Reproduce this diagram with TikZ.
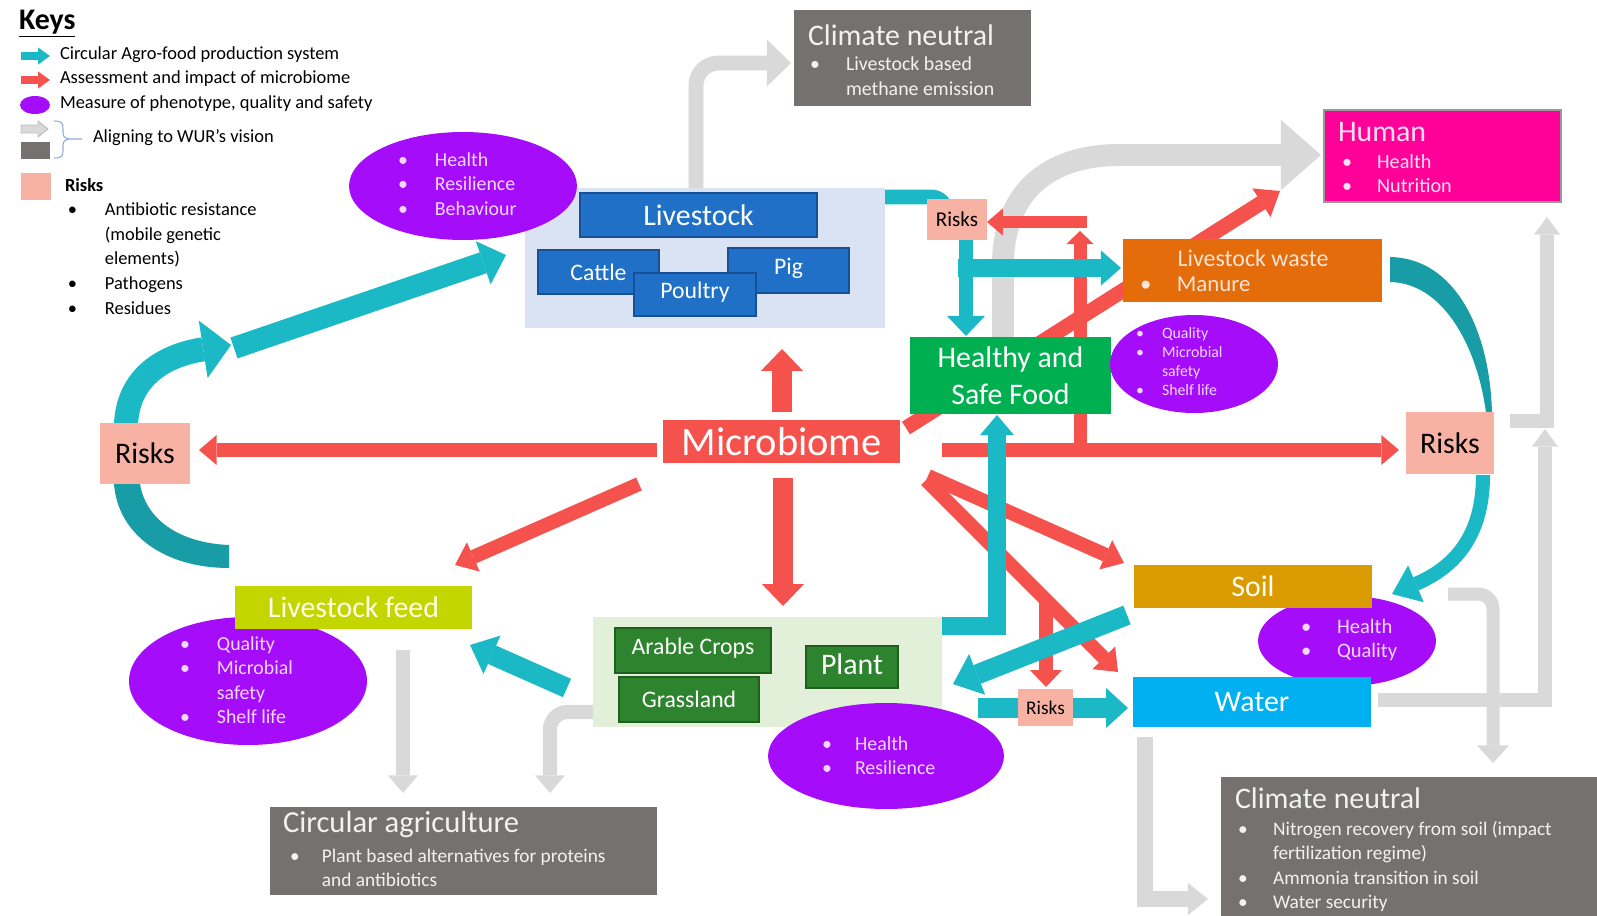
\documentclass[tikz,border=0pt]{standalone}
\usepackage{fontspec}
\setmainfont{Carlito}
\usetikzlibrary{arrows.meta,fit,shapes.geometric}
\definecolor{tealc}{RGB}{27,185,198}
\definecolor{teald}{RGB}{24,157,167}
\definecolor{redc}{RGB}{245,82,78}
\definecolor{purp}{RGB}{164,12,250}
\definecolor{garr}{RGB}{217,217,217}
\definecolor{garrb}{RGB}{190,190,190}
\definecolor{dgray}{RGB}{118,113,113}
\definecolor{pinkr}{RGB}{248,178,164}
\definecolor{lblue}{RGB}{218,227,243}
\definecolor{bluec}{RGB}{31,112,198}
\definecolor{blueb}{RGB}{24,80,150}
\definecolor{lgreen}{RGB}{226,240,217}
\definecolor{dgreen}{RGB}{46,132,46}
\definecolor{dgreenb}{RGB}{30,95,30}
\definecolor{hgreen}{RGB}{0,176,80}
\definecolor{orangec}{RGB}{228,108,10}
\definecolor{soilc}{RGB}{218,155,0}
\definecolor{waterc}{RGB}{0,176,240}
\definecolor{humanc}{RGB}{255,0,153}
\definecolor{feedc}{RGB}{196,214,0}
\definecolor{ptext}{RGB}{242,215,255}
\definecolor{gtext}{RGB}{242,242,242}
\definecolor{wtext}{RGB}{252,228,214}
\definecolor{htext}{RGB}{255,225,242}
\definecolor{bracec}{RGB}{143,170,220}
\newcommand{\blist}[2]{\begin{tabular}{@{}p{#1}@{}l@{}}#2\end{tabular}}
\newcommand{\fsz}[2]{\fontsize{#1}{#2}\selectfont}
\begin{document}
\begin{tikzpicture}[x=0.02cm,y=-0.02cm,
  every node/.style={inner sep=0pt,outer sep=0pt},
  barr/.style n args={4}{draw=#2,line width=#1,-{Triangle[length=#3,width=#4,line width=0pt]}},
  band/.style n args={2}{draw=#2,line width=#1},
  riskbox/.style={fill=pinkr},
  bluebox/.style={fill=bluec,draw=blueb,line width=0.7pt},
  greenbox/.style={fill=dgreen,draw=dgreenb,line width=0.7pt},
  wlab/.style={text=white,font=\fsz{13.5}{16}},
  blab/.style={text=black},
  purpell/.style={ellipse,fill=purp},
  ptxt/.style={anchor=west,text=ptext,align=left},
  keytxt/.style={anchor=west,text=black,font=\fsz{10.5}{14.2}}]
\useasboundingbox (0,0) rectangle (1597,916);
\fill[white] (0,0) rectangle (1597,916);

% ---------------- Keys
\node[anchor=west,font=\bfseries\fsz{17}{20}] (keys) at (19,24) {\underline{Keys}};
\coordinate (kt1) at (21,56); \coordinate (kt2) at (50,56);
\draw[barr={5.1pt}{tealc}{6.8pt}{9.7pt}] (kt1) -- (kt2);
\coordinate (kr1) at (21,80); \coordinate (kr2) at (50,80);
\draw[barr={5.1pt}{redc}{6.8pt}{9.7pt}] (kr1) -- (kr2);
\node[ellipse,fill=purp,minimum width=0.6cm,minimum height=0.36cm] (kell) at (35,105) {};
\draw[fill=garr,draw=garrb,line width=0.5pt] (21,125)--(38,125)--(38,121)--(48,129)--(38,137)--(38,133)--(21,133)--cycle;
\node[fit={(21,142) (50,159)},fill=dgray] (kdark) {};
\draw[bracec,line width=0.6pt] (54,121) .. controls (62,121) and (63,123) .. (63,129) -- (63,133) .. controls (63,137) and (66,139) .. (70,139) -- (82,139)
  (70,139) .. controls (66,139) and (63,141) .. (63,145) -- (63,151) .. controls (63,156) and (62,158) .. (54,158);
\node[fit={(21,173) (51,200)},fill=pinkr] (kpink) {};
\node[keytxt] (k1) at (60,55) {Circular Agro-food production system};
\node[keytxt] (k2) at (60,79) {Assessment and impact of microbiome};
\node[keytxt] (k3) at (60,104) {Measure of phenotype, quality and safety};
\node[keytxt] (k4) at (93,138) {Aligning to WUR’s vision};
\node[keytxt,font=\bfseries\fsz{10.5}{14.2}] (k5) at (65,185) {Risks};
\node[keytxt] (k6) at (68,260) {\blist{21pt}{\textbullet & Antibiotic resistance\\ & (mobile genetic\\ & elements)\\ \textbullet & Pathogens\\ \textbullet & Residues}};

% ---------------- regions
\node[fit={(525,188) (885,328)},fill=lblue] (livreg) {};
\node[fit={(593,617) (942,727)},fill=lgreen] (plantreg) {};

% ---------------- grey arrows
\coordinate (g1s) at (696,188); \coordinate (g1e) at (791,63);
\draw[barr={8.5pt}{garr}{13.7pt}{26.7pt},rounded corners=0.45cm] (g1s) -- (g1s |- g1e) -- (g1e);
\coordinate (g2s) at (1003,337); \coordinate (g2e) at (1321,155);
\draw[barr={12.5pt}{garr}{22.8pt}{40pt}] (g2s) -- (1003,265) .. controls (1003,195) and (1045,155) .. (1120,155) -- (g2e);
\coordinate (g3s) at (1378,700); \coordinate (g3e) at (1545,429);
\draw[barr={8pt}{garr}{10pt}{14.8pt}] (g3s) -- (g3s -| g3e) -- (g3e);
\coordinate (g3bs) at (1510,421); \coordinate (g3be) at (1547,217);
\draw[barr={8pt}{garr}{10pt}{14.8pt}] (g3bs) -- (g3bs -| g3be) -- (g3be);
\coordinate (g4s) at (1448,594); \coordinate (g4e) at (1493,763);
\draw[barr={7.4pt}{garr}{10pt}{18.2pt},rounded corners=0.3cm] (g4s) -- (g4s -| g4e) -- (g4e);
\coordinate (g5s) at (1145,737); \coordinate (g5e) at (1208,899);
\draw[barr={9.1pt}{garr}{11.4pt}{18.2pt}] (g5s) -- (g5s |- g5e) -- (g5e);
\coordinate (g6s) at (403,650); \coordinate (g6e) at (403,793);
\draw[barr={8.5pt}{garr}{10pt}{17pt}] (g6s) -- (g6e);
\coordinate (g7s) at (593,712); \coordinate (g7e) at (550,793);
\draw[barr={8pt}{garr}{10pt}{17pt},rounded corners=0.35cm] (g7s) -- (g7s -| g7e) -- (g7e);

% ---------------- red arrows
\coordinate (r1s) at (657,450); \coordinate (r1e) at (199,450);
\draw[barr={8pt}{redc}{10pt}{17pt}] (r1s) -- (r1e);
\coordinate (r5s) at (942,450); \coordinate (r5e) at (1399,450);
\draw[barr={8pt}{redc}{10pt}{17pt}] (r5s) -- (r5e);
\coordinate (r5bs) at (1080,456); \coordinate (r5be) at (1080,231);
\draw[barr={7.4pt}{redc}{7.4pt}{15.4pt}] (r5bs) -- (r5be);
\coordinate (r5cs) at (1087,222); \coordinate (r5ce) at (987,222);
\draw[barr={6.8pt}{redc}{9pt}{15.4pt}] (r5cs) -- (r5ce);
\coordinate (r2s) at (782,412); \coordinate (r2e) at (782,349);
\draw[barr={11.4pt}{redc}{12.5pt}{24pt}] (r2s) -- (r2e);
\coordinate (r3s) at (783,478); \coordinate (r3e) at (783,606);
\draw[barr={11.4pt}{redc}{12.5pt}{24pt}] (r3s) -- (r3e);
\coordinate (r4s) at (639,484); \coordinate (r4e) at (455,565);
\draw[barr={8pt}{redc}{11.4pt}{18.2pt}] (r4s) -- (r4e);
\coordinate (r6s) at (906,428); \coordinate (r6e) at (1280,191);
\draw[barr={8.5pt}{redc}{12.5pt}{19.3pt}] (r6s) -- (r6e);
\coordinate (r7s) at (928,476); \coordinate (r7e) at (1124,563);
\draw[barr={8pt}{redc}{11.4pt}{18.2pt}] (r7s) -- (r7e);
\coordinate (r8s) at (926,480); \coordinate (r8e) at (1118,672);
\draw[barr={8pt}{redc}{11.4pt}{18.2pt}] (r8s) -- (r8e);
\coordinate (r8bs) at (1046,598); \coordinate (r8be) at (1046,687);
\draw[barr={8.5pt}{redc}{9.6pt}{18.2pt}] (r8bs) -- (r8be);

% ---------------- teal arrows
\coordinate (t1s) at (885,197); \coordinate (t1e) at (946,218);
\draw[band={8.5pt}{tealc},rounded corners=0.3cm] (t1s) -- (t1s -| t1e) -- (t1e);
\coordinate (t2s) at (966,238); \coordinate (t2e) at (966,336);
\draw[barr={8pt}{tealc}{11.4pt}{21.6pt}] (t2s) -- (t2e);
\coordinate (t2bs) at (958,268); \coordinate (t2be) at (1121,268);
\draw[barr={9.7pt}{tealc}{11.4pt}{20pt}] (t2bs) -- (t2be);
\coordinate (t3s) at (942,626); \coordinate (t3e) at (997,415);
\draw[barr={9.7pt}{tealc}{11.4pt}{19.3pt}] (t3s) -- (t3s -| t3e) -- (t3e);
\coordinate (t4s) at (1127,615); \coordinate (t4e) at (953,684);
\draw[barr={11.4pt}{tealc}{14.8pt}{25pt}] (t4s) -- (t4e);
\coordinate (t5s) at (978,708); \coordinate (t5e) at (1128,708);
\draw[barr={11.4pt}{tealc}{12.5pt}{22.8pt}] (t5s) -- (t5e);
\coordinate (t6s) at (567,688); \coordinate (t6e) at (470,645);
\draw[barr={11.4pt}{tealc}{13.7pt}{23.9pt}] (t6s) -- (t6e);
\coordinate (t7s) at (234,348); \coordinate (t7e) at (506,255);
\draw[barr={12.5pt}{tealc}{13.7pt}{26pt}] (t7s) -- (t7e);
\coordinate (t8s) at (126,424); \coordinate (t8e) at (231,345);
\draw[barr={13.7pt}{tealc}{16pt}{33pt}] (t8s) .. controls (128,380) and (160,356) .. (t8e);
\fill[teald] (114,484) .. controls (118,535) and (165,568) .. (229,568) -- (229,545) .. controls (180,543) and (146,520) .. (140,484) -- cycle;
\fill[teald] (1390,257) .. controls (1455,258) and (1490,330) .. (1492,413) -- (1486,413) .. controls (1478,350) and (1445,283) .. (1390,282) -- cycle;

% ---------------- boxes
\node[fit={(794,10) (1031,106)},fill=dgray] (cn1) {};
\node[anchor=west,text=gtext,font=\fsz{17}{20}] (cn1t) at (808,35) {Climate neutral};
\node[anchor=west,text=gtext,font=\fsz{11.3}{14.2},align=left] (cn1l) at (810,78) {\blist{20.5pt}{\textbullet & Livestock based\\ & methane emission}};

\node[fit={(1324,110) (1561,202)},fill=humanc,draw=gray!80,line width=0.6pt] (hum) {};
\node[anchor=west,text=htext,font=\fsz{17}{20}] (humt) at (1338,132) {Human};
\node[anchor=west,text=htext,font=\fsz{11.5}{14.2},align=left] (huml) at (1342,175.5) {\blist{20pt}{\textbullet & Health\\ \textbullet & Nutrition}};

\node[fit={(580,193) (817,237)},bluebox] (liv) {};
\node[wlab,font=\fsz{17}{20}] (livt) at (liv.center) {Livestock};
\node[fit={(538,250) (659,294)},bluebox] (cattle) {};
\node[wlab] (cattlet) at (cattle.center) {Cattle};
\node[fit={(728,248) (849,293)},bluebox] (pig) {};
\node[wlab] (pigt) at ([yshift=0.05cm]pig.center) {Pig};
\node[fit={(634,273) (756,316)},bluebox] (poultry) {};
\node[wlab] (poultryt) at ([yshift=0.05cm]poultry.center) {Poultry};

\node[fit={(1123,239) (1382,302)},fill=orangec] (lw) {};
\node[text=wtext,font=\fsz{13.6}{16}] (lwt) at (1253,258) {Livestock waste};
\node[anchor=west,text=wtext,font=\fsz{13}{16},align=left] (lwl) at (1140,286) {\blist{21pt}{\textbullet & Manure}};

\node[fit={(910,337) (1111,414)},fill=hgreen] (hsf) {};
\node[text=white,font=\fsz{17}{21},align=center] (hsft) at (hsf.center) {Healthy and\\Safe Food};

\node[fit={(663,420) (900,463)},fill=redc] (micro) {};
\node[text=white,font=\fsz{23}{26}] (microt) at (micro.center) {Microbiome};

\node[fit={(100,423) (190,484)},riskbox] (riskL) {};
\node[blab,font=\fsz{17}{20}] (riskLt) at (riskL.center) {Risks};
\node[fit={(1406,412) (1494,474)},riskbox] (riskR) {};
\node[blab,font=\fsz{17}{20}] (riskRt) at (riskR.center) {Risks};
\node[fit={(927,199) (987,240)},riskbox] (riskS) {};
\node[blab,font=\fsz{12}{14}] (riskSt) at (riskS.center) {Risks};

\node[fit={(615,628) (771,673)},greenbox] (arable) {};
\node[wlab] (arablet) at ([yshift=0.05cm]arable.center) {Arable Crops};
\node[fit={(619,677) (759,722)},greenbox] (grass) {};
\node[wlab] (grasst) at (grass.center) {Grassland};
\node[fit={(806,646) (898,688)},greenbox] (plant) {};
\node[wlab,font=\fsz{17}{20}] (plantt) at ([yshift=0.05cm]plant.center) {Plant};

% ---------------- ellipses
\node[purpell,minimum width=4.56cm,minimum height=2.16cm] (e1) at (463,186) {};
\node[ptxt,font=\fsz{11.3}{14.2}] (e1t) at (398,186) {\blist{21pt}{\textbullet & Health\\ \textbullet & Resilience\\ \textbullet & Behaviour}};
\node[purpell,minimum width=3.36cm,minimum height=1.96cm] (e2) at (1194,364) {};
\node[ptxt,font=\fsz{9}{10.8}] (e2t) at (1136,363.5) {\blist{14.8pt}{\textbullet & Quality\\ \textbullet & Microbial\\ & safety\\ \textbullet & Shelf life}};
\node[purpell,minimum width=4.76cm,minimum height=2.56cm] (e3) at (248,681) {};
\node[ptxt,font=\fsz{11.3}{14}] (e3t) at (180,682) {\blist{21pt}{\textbullet & Quality\\ \textbullet & Microbial\\ & safety\\ \textbullet & Shelf life}};
\node[purpell,minimum width=4.72cm,minimum height=2.12cm] (e4) at (886,756) {};
\node[ptxt,font=\fsz{11.3}{14.2}] (e4t) at (822,757.5) {\blist{18.8pt}{\textbullet & Health\\ \textbullet & Resilience}};
\node[purpell,minimum width=3.56cm,minimum height=1.8cm] (e5) at (1347,641) {};
\node[ptxt,font=\fsz{11.7}{14.2}] (e5t) at (1301,640.5) {\blist{20.5pt}{\textbullet & Health\\ \textbullet & Quality}};

\node[fit={(235,586) (472,629)},fill=feedc] (feed) {};
\node[text=white!92!yellow,font=\fsz{17}{20}] (feedt) at (feed.center) {Livestock feed};
\node[fit={(1134,565) (1372,608)},fill=soilc] (soil) {};
\node[text=white!95!yellow,font=\fsz{17}{20}] (soilt) at (soil.center) {Soil};
\node[fit={(1133,677) (1371,727)},fill=waterc] (water) {};
\node[text=white,font=\fsz{17}{20}] (watert) at (water.center) {Water};
\node[fit={(1018,689) (1073,726)},riskbox] (riskW) {};
\node[blab,font=\fsz{11}{13}] (riskWt) at (riskW.center) {Risks};

\coordinate (t9s) at (1483,475); \coordinate (t9e) at (1392,594);
\draw[barr={8pt}{tealc}{14.8pt}{22.8pt}] (t9s) .. controls (1483,530) and (1460,565) .. (t9e);

\node[fit={(1221,777) (1597,916)},fill=dgray] (cn2) {};
\node[anchor=west,text=gtext,font=\fsz{17}{20}] (cn2t) at (1235,798) {Climate neutral};
\node[anchor=west,text=gtext,font=\fsz{11}{14},align=left] (cn2l) at (1238,867) {\blist{20pt}{\textbullet & Nitrogen recovery from soil (impact\\ & fertilization regime)\\ \textbullet & Ammonia transition in soil\\ \textbullet & Water security}};

\node[fit={(270,807) (657,895)},fill=dgray] (circ) {};
\node[anchor=west,text=gtext,font=\fsz{17.4}{20}] (circt) at (283,825) {Circular agriculture};
\node[anchor=west,text=gtext,font=\fsz{11}{13.7},align=left] (circl) at (290,870) {\blist{18.2pt}{\textbullet & Plant based alternatives for proteins\\ & and antibiotics}};
\end{tikzpicture}
\end{document}
